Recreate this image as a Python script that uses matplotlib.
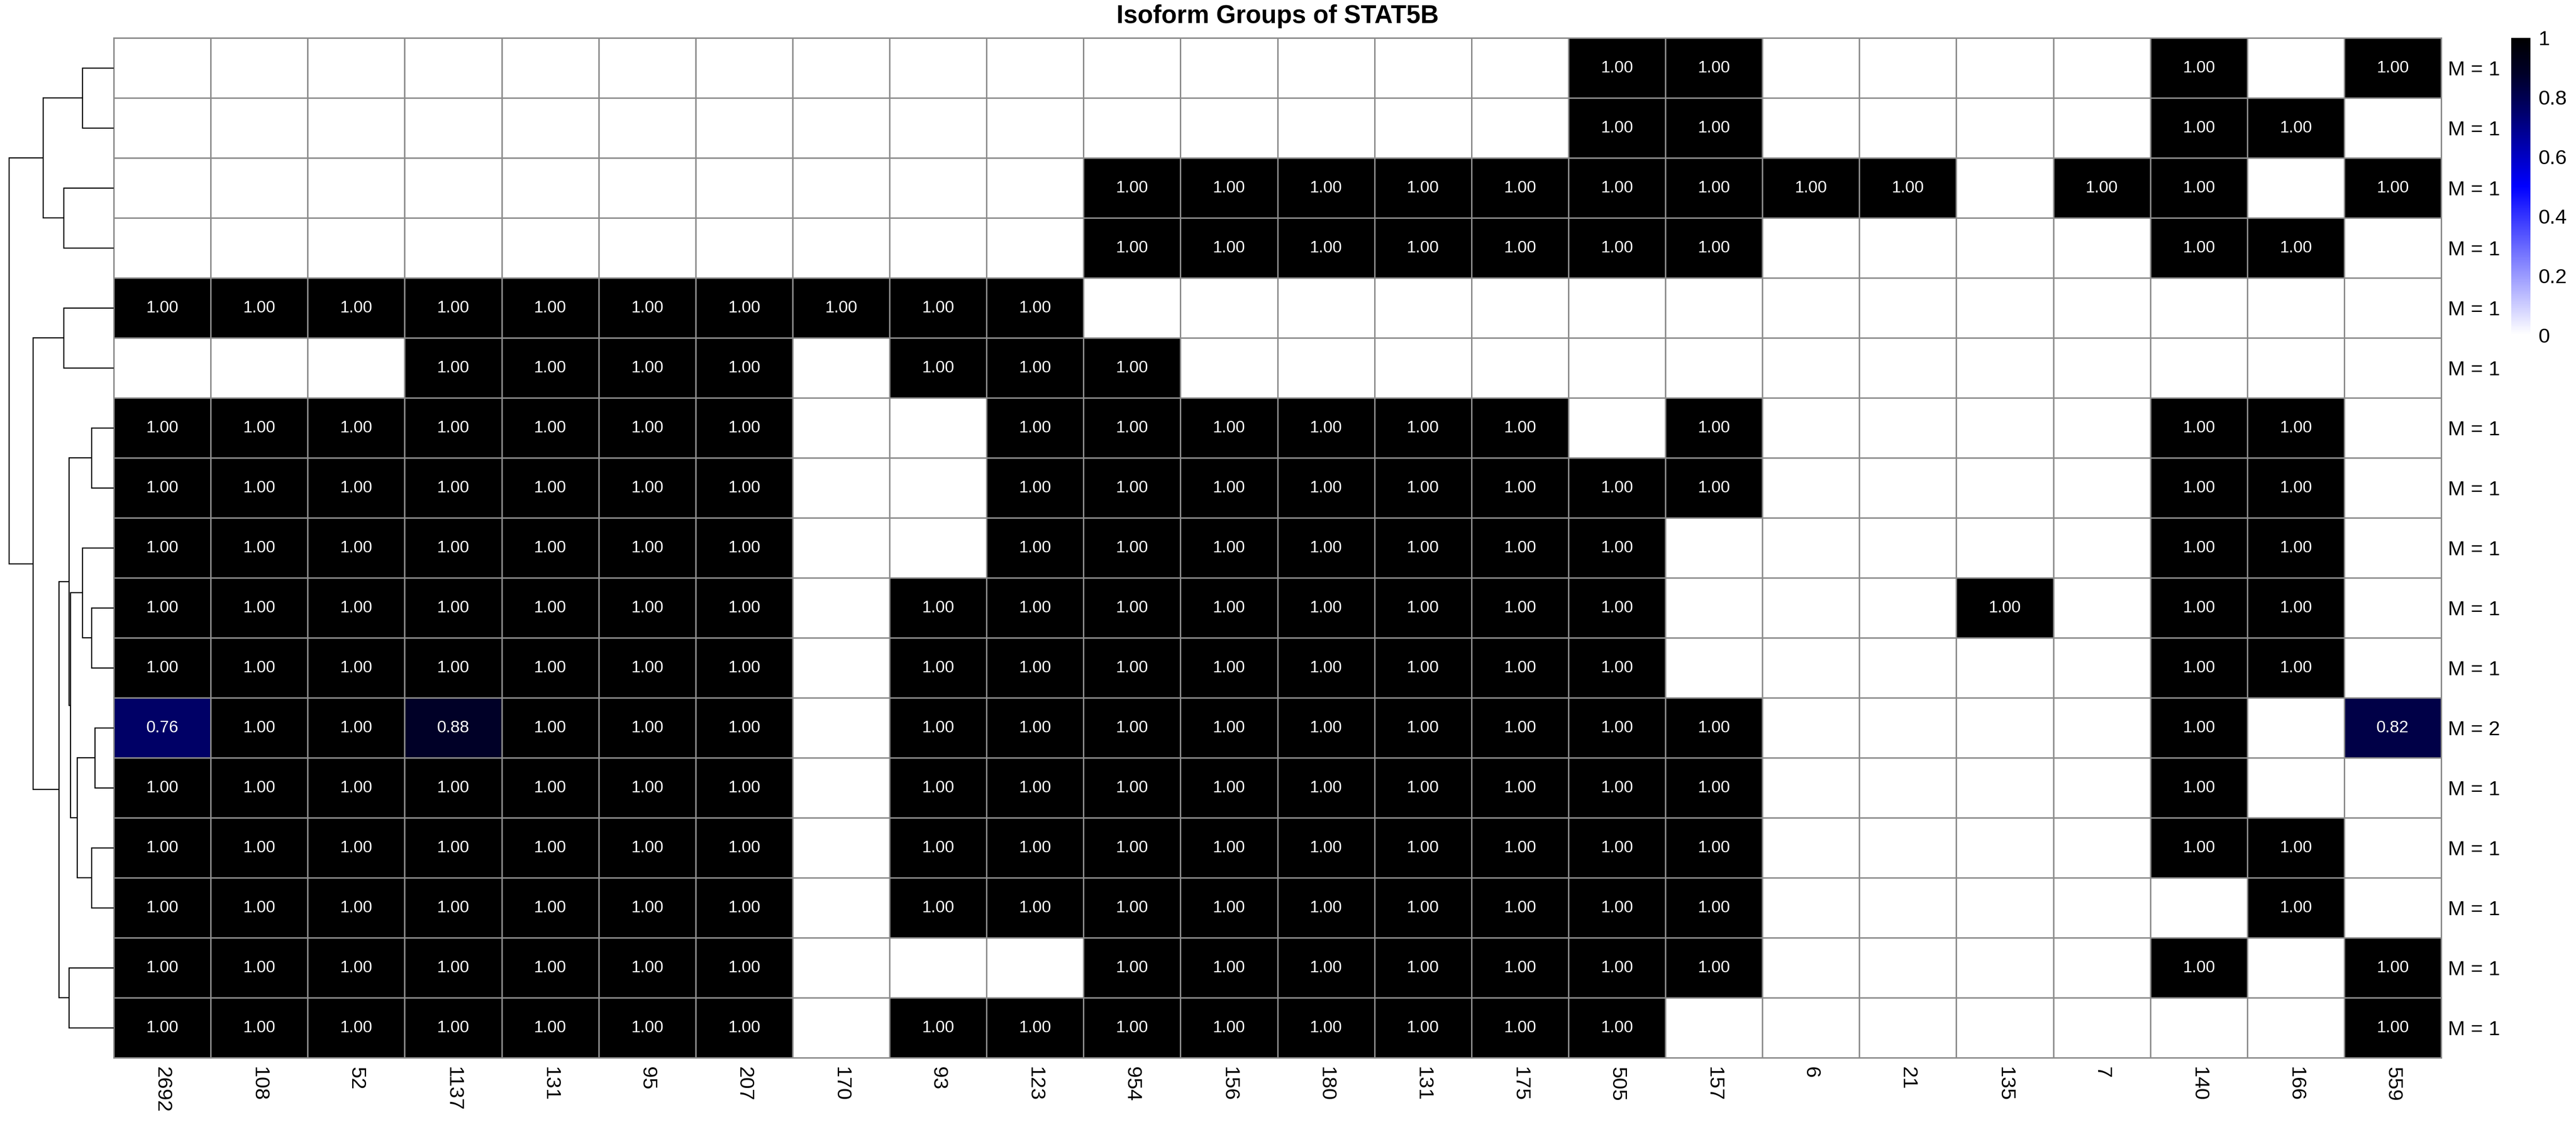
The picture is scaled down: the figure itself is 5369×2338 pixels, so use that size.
import numpy as np
import matplotlib
matplotlib.use("Agg")
import matplotlib.pyplot as plt
from matplotlib.colors import LinearSegmentedColormap

plt.rcParams["font.family"] = ["Liberation Sans", "DejaVu Sans"]

# ---- data ----
title = "Isoform Groups of STAT5B"

col_labels = ["2692", "108", "52", "1137", "131", "95", "207", "170", "93", "123",
              "954", "156", "180", "131", "175", "505", "157", "6", "21", "135",
              "7", "140", "166", "559"]

row_labels = ["M = 1"] * 11 + ["M = 2"] + ["M = 1"] * 5

values = [
    [0, 0, 0, 0, 0, 0, 0, 0, 0, 0, 0, 0, 0, 0, 0, 1, 1, 0, 0, 0, 0, 1, 0, 1],
    [0, 0, 0, 0, 0, 0, 0, 0, 0, 0, 0, 0, 0, 0, 0, 1, 1, 0, 0, 0, 0, 1, 1, 0],
    [0, 0, 0, 0, 0, 0, 0, 0, 0, 0, 1, 1, 1, 1, 1, 1, 1, 1, 1, 0, 1, 1, 0, 1],
    [0, 0, 0, 0, 0, 0, 0, 0, 0, 0, 1, 1, 1, 1, 1, 1, 1, 0, 0, 0, 0, 1, 1, 0],
    [1, 1, 1, 1, 1, 1, 1, 1, 1, 1, 0, 0, 0, 0, 0, 0, 0, 0, 0, 0, 0, 0, 0, 0],
    [0, 0, 0, 1, 1, 1, 1, 0, 1, 1, 1, 0, 0, 0, 0, 0, 0, 0, 0, 0, 0, 0, 0, 0],
    [1, 1, 1, 1, 1, 1, 1, 0, 0, 1, 1, 1, 1, 1, 1, 0, 1, 0, 0, 0, 0, 1, 1, 0],
    [1, 1, 1, 1, 1, 1, 1, 0, 0, 1, 1, 1, 1, 1, 1, 1, 1, 0, 0, 0, 0, 1, 1, 0],
    [1, 1, 1, 1, 1, 1, 1, 0, 0, 1, 1, 1, 1, 1, 1, 1, 0, 0, 0, 0, 0, 1, 1, 0],
    [1, 1, 1, 1, 1, 1, 1, 0, 1, 1, 1, 1, 1, 1, 1, 1, 0, 0, 0, 1, 0, 1, 1, 0],
    [1, 1, 1, 1, 1, 1, 1, 0, 1, 1, 1, 1, 1, 1, 1, 1, 0, 0, 0, 0, 0, 1, 1, 0],
    [0.76, 1, 1, 0.88, 1, 1, 1, 0, 1, 1, 1, 1, 1, 1, 1, 1, 1, 0, 0, 0, 0, 1, 0, 0.82],
    [1, 1, 1, 1, 1, 1, 1, 0, 1, 1, 1, 1, 1, 1, 1, 1, 1, 0, 0, 0, 0, 1, 0, 0],
    [1, 1, 1, 1, 1, 1, 1, 0, 1, 1, 1, 1, 1, 1, 1, 1, 1, 0, 0, 0, 0, 1, 1, 0],
    [1, 1, 1, 1, 1, 1, 1, 0, 1, 1, 1, 1, 1, 1, 1, 1, 1, 0, 0, 0, 0, 0, 1, 0],
    [1, 1, 1, 1, 1, 1, 1, 0, 0, 0, 1, 1, 1, 1, 1, 1, 1, 0, 0, 0, 0, 1, 0, 1],
    [1, 1, 1, 1, 1, 1, 1, 0, 1, 1, 1, 1, 1, 1, 1, 1, 0, 0, 0, 0, 0, 0, 0, 1],
]

# row dendrogram, scipy-like: leaves 0..16, new clusters numbered from 17
merge_left = [0, 2, 17, 4, 6, 9, 8, 11, 13, 24, 23, 21, 15, 28, 20, 19]
merge_right = [1, 3, 18, 5, 7, 10, 22, 12, 14, 25, 26, 27, 16, 29, 30, 31]
merge_height = [0.65, 1.04, 1.47, 1.04, 0.46, 0.46, 0.65, 0.39, 0.46,
                0.76, 0.90, 0.93, 0.93, 1.14, 1.68, 2.18]

# ---- figure ----
W, H = 5369, 2338
fig = plt.figure(figsize=(W / 100, H / 100), dpi=100)

hm_left, hm_right, hm_top, hm_bottom = 237, 5088, 79, 2204
ax = fig.add_axes([hm_left / W, 1 - hm_bottom / H,
                   (hm_right - hm_left) / W, (hm_bottom - hm_top) / H])

cmap = LinearSegmentedColormap.from_list(
    "wbk", [(0, "white"), (0.5, "#0000ff"), (0.76, "#000066"),
            (0.88, "#000028"), (1, "black")])

mat = np.array(values, dtype=float)
n_rows, n_cols = mat.shape
mesh = ax.pcolormesh(mat, cmap=cmap, vmin=0, vmax=1,
                     edgecolors="#8c8c8c", linewidth=1.9)
ax.set_xlim(0, n_cols)
ax.set_ylim(n_rows, 0)

for i in range(n_rows):
    for j in range(n_cols):
        v = mat[i, j]
        if v > 0:
            ax.text(j + 0.5, i + 0.5, f"{v:.2f}", color="white",
                    ha="center", va="center", fontsize=25)

ax.set_xticks(np.arange(n_cols) + 0.5)
ax.set_xticklabels(col_labels, rotation=270, fontsize=31)
ax.set_yticks(np.arange(n_rows) + 0.5)
ax.set_yticklabels(row_labels, fontsize=31)
ax.yaxis.tick_right()
ax.tick_params(axis="x", length=0, pad=14)
ax.tick_params(axis="y", length=0, pad=10)
for s in ax.spines.values():
    s.set_color("#8c8c8c")
    s.set_linewidth(2.2)

fig.text((hm_left + hm_right) / 2 / W, 1 - 34 / H, title,
         ha="center", va="center", fontsize=38, fontweight="bold")

# ---- dendrogram ----
root_x = 19
dax = fig.add_axes([root_x / W, 1 - hm_bottom / H,
                    (hm_left - root_x) / W, (hm_bottom - hm_top) / H])
dax.set_xlim(max(merge_height), 0)
dax.set_ylim(n_rows, 0)
dax.axis("off")

node_y = {i: i + 0.5 for i in range(n_rows)}
node_h = {i: 0.0 for i in range(n_rows)}
for k, (a, b, h) in enumerate(zip(merge_left, merge_right, merge_height)):
    ya, yb = node_y[a], node_y[b]
    dax.plot([node_h[a], h, h, node_h[b]], [ya, ya, yb, yb],
             color="black", linewidth=1.7, clip_on=False,
             solid_joinstyle="miter", solid_capstyle="butt")
    node_y[n_rows + k] = (ya + yb) / 2
    node_h[n_rows + k] = h

# ---- colour bar ----
cax = fig.add_axes([5234 / W, 1 - 698 / H, 40 / W, (698 - 79) / H])
cb = fig.colorbar(mesh, cax=cax)
cb.outline.set_visible(False)
cb.set_ticks([0, 0.2, 0.4, 0.6, 0.8, 1])
cb.set_ticklabels(["0", "0.2", "0.4", "0.6", "0.8", "1"])
cax.tick_params(length=0, pad=12, labelsize=31)

fig.savefig("out.png", dpi=100)
